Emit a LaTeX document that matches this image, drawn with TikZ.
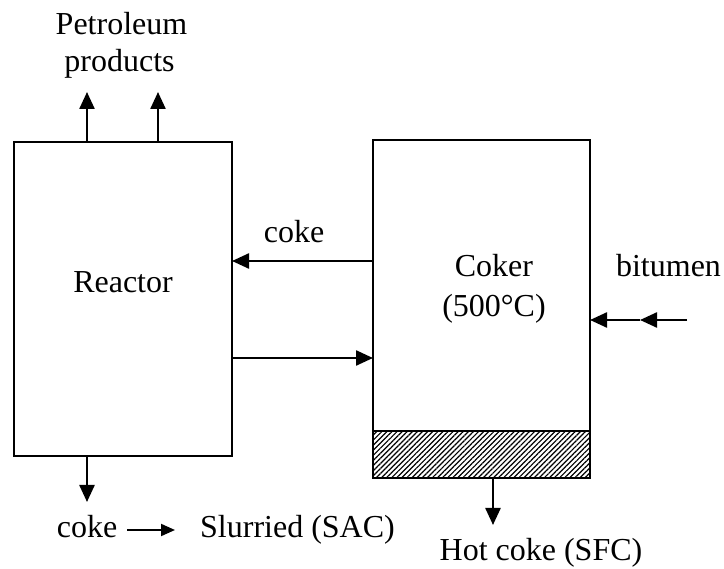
\documentclass[tikz,border=0pt]{standalone}
\usepackage{fontspec}
\setmainfont{Liberation Serif}
\usetikzlibrary{arrows.meta,patterns.meta}
\begin{document}
\begin{tikzpicture}[x=1pt,y=-1pt,
  box/.style={draw,line width=2.4pt,inner sep=0pt,outer sep=0pt},
  lbl/.style={anchor=base,inner sep=0pt,font=\fontsize{32}{37}\selectfont},
  arr/.style={line width=2.4pt,-{Triangle[length=17pt,width=15pt]}},
  sarr/.style={line width=2pt,-{Triangle[length=14pt,width=12pt]}}]
\useasboundingbox (0,0) rectangle (724,569);
% boxes
\node[box,minimum width=218pt,minimum height=314pt] (reactor) at (123,299) {};
\fill[pattern={Lines[angle=45,distance=3.6pt,line width=1.2pt]}] (373,431) rectangle (590,478);
\node[box,minimum width=217pt,minimum height=338pt] (coker) at (481.5,309) {};
\coordinate (hl) at (373,431);
\draw[line width=2.4pt] (hl) -- (hl -| coker.east);
% labels
\node[lbl] (reactorlbl) at (123,293) {Reactor};
\node[lbl] (cokerlbl) at (494,277) {Coker};
\node[lbl] (templbl) at (494,317) {(500°C)};
\node[lbl] (petro1) at (121.5,35) {Petroleum};
\node[lbl] (petro2) at (119.5,72) {products};
\node[lbl] (cokelbl) at (294,243) {coke};
\node[lbl] (bitumen) at (668.5,277) {bitumen};
\node[lbl] (coke2) at (87,538) {coke};
\node[lbl] (slurried) at (297.5,538) {Slurried (SAC)};
\node[lbl] (hotcoke) at (541,561) {Hot coke (SFC)};
% top product arrows
\coordinate (p1) at (87,92);
\coordinate (p2) at (158,92);
\draw[arr] (p1 |- reactor.north) -- (p1);
\draw[arr] (p2 |- reactor.north) -- (p2);
% coke from coker to reactor
\coordinate (y1) at (0,261);
\coordinate (y2) at (0,358);
\draw[arr] (coker.west |- y1) -- (reactor.east |- y1);
\draw[arr] (reactor.east |- y2) -- (coker.west |- y2);
% bitumen feed
\coordinate (bstart) at (687,320);
\coordinate (bmid) at (640,320);
\draw[arr] (bstart) -- (bmid);
\draw[arr] (bmid) -- (coker.east |- bstart);
% reactor bottom
\coordinate (r1) at (87,502);
\draw[arr] (r1 |- reactor.south) -- (r1);
\coordinate (a1) at (127,530);
\coordinate (a2) at (175,530);
\draw[sarr] (a1) -- (a2);
% hot coke
\coordinate (h1) at (493,525);
\draw[arr] (h1 |- coker.south) -- (h1);
\end{tikzpicture}
\end{document}
